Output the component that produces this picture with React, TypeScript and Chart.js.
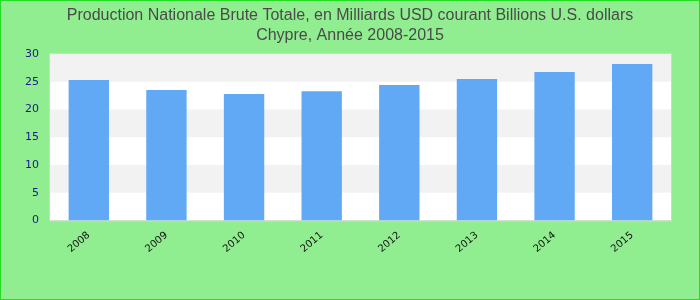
import React, { useEffect, useRef } from "react";
import { Chart, registerables } from "chart.js";

Chart.register(...registerables);

const years = ["2008", "2009", "2010", "2011", "2012", "2013", "2014", "2015"];
const gnp = [25.3, 23.5, 22.8, 23.3, 24.4, 25.5, 26.75, 28.2];
const yTicks = [0, 5, 10, 15, 20, 25, 30];
const titleLines = [
  "Production Nationale Brute Totale, en Milliards USD courant Billions U.S. dollars",
  "Chypre, Année 2008-2015",
];

const bandsPlugin = {
  id: "bands",
  beforeDraw(chart: any) {
    const { ctx, chartArea, scales } = chart;
    const y = scales.y;
    ctx.save();
    ctx.fillStyle = "#ffffff";
    ctx.fillRect(chartArea.left, chartArea.top, chartArea.right - chartArea.left, chartArea.bottom - chartArea.top);
    for (let i = 0; i < yTicks.length - 1; i++) {
      if (i % 2 === 1) {
        const top = y.getPixelForValue(yTicks[i + 1]);
        const bot = y.getPixelForValue(yTicks[i]);
        ctx.fillStyle = "#f2f2f2";
        ctx.fillRect(chartArea.left, top, chartArea.right - chartArea.left, bot - top);
      }
    }
    ctx.strokeStyle = "#d4d4d4";
    ctx.lineWidth = 1;
    ctx.strokeRect(chartArea.left - 0.5, chartArea.top - 0.5, chartArea.right - chartArea.left + 1, chartArea.bottom - chartArea.top + 1);
    ctx.restore();
  },
};

const bgPlugin = {
  id: "bg",
  beforeDraw(chart: any) {
    const { ctx, width, height } = chart;
    ctx.save();
    ctx.fillStyle = "#90ee90";
    ctx.fillRect(0, 0, width, height);
    ctx.strokeStyle = "#22dd22";
    ctx.lineWidth = 1;
    ctx.strokeRect(0.5, 0.5, width - 1, height - 1);
    ctx.fillStyle = "#4a4a4a";
    ctx.font = "16px 'Liberation Sans', Arial, sans-serif";
    ctx.textAlign = "center";
    ctx.textBaseline = "middle";
    titleLines.forEach((line, i) => ctx.fillText(line, width / 2, 16 + i * 20));
    ctx.restore();
  },
};

export default function App() {
  const ref = useRef<HTMLCanvasElement | null>(null);
  useEffect(() => {
    document.body.style.margin = "0";
    if (!ref.current) return;
    const chart = new Chart(ref.current, {
      type: "bar",
      data: {
        labels: years,
        datasets: [
          {
            data: gnp,
            backgroundColor: "#62a9f5",
            barPercentage: 0.52,
            categoryPercentage: 1,
          },
        ],
      },
      options: {
        animation: false,
        responsive: false,
        layout: { padding: { left: 14, right: 29, top: 54, bottom: 36 } },
        plugins: {
          legend: { display: false },
          tooltip: { enabled: false },
          title: { display: false },
        },
        scales: {
          x: {
            grid: { display: false, drawTicks: false },
            border: { display: false },
            ticks: {
              color: "#111111",
              minRotation: 40,
              maxRotation: 40,
              font: { family: "DejaVu Sans, sans-serif", size: 10 },
              padding: 9,
            },
          },
          y: {
            min: 0,
            max: 30,
            grid: { display: false, drawTicks: false },
            border: { display: false },
            ticks: {
              stepSize: 5,
              color: "#1a1a8c",
              font: { family: "DejaVu Sans, sans-serif", size: 11 },
              padding: 11,
            },
          },
        },
      },
      plugins: [bgPlugin, bandsPlugin],
    });
    return () => chart.destroy();
  }, []);
  return (
    <div style={{ width: 700, height: 300 }}>
      <canvas ref={ref} width={700} height={300} style={{ display: "block" }} />
    </div>
  );
}
